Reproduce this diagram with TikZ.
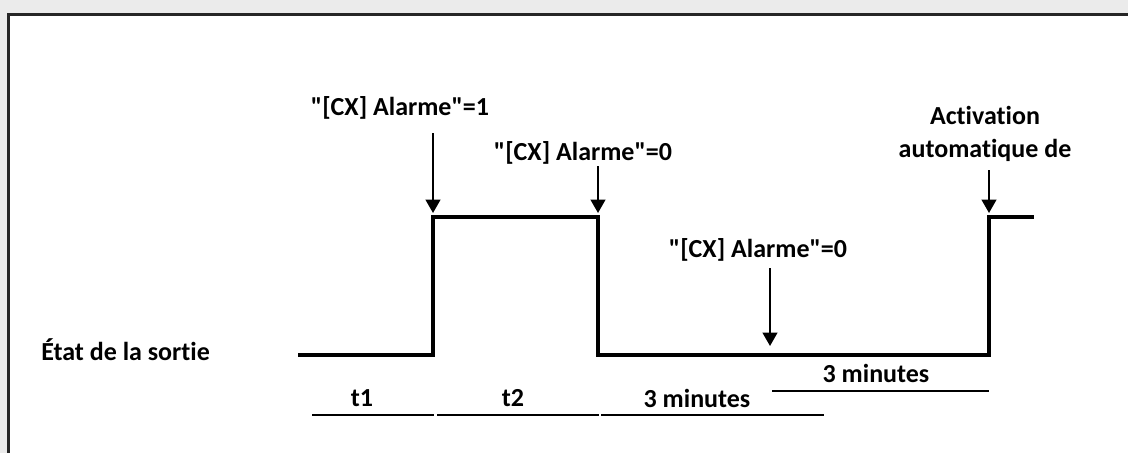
\documentclass[tikz,border=0pt]{standalone}
\usepackage{fontspec}
\newfontfamily\calfont{Carlito}[Ligatures={NoCommon}]
\usetikzlibrary{arrows.meta}
\definecolor{bggray}{HTML}{EBEBEB}
\tikzset{
  lbl/.style={font=\calfont\bfseries\fontsize{19.5}{24.75}\selectfont, inner sep=0pt, text=black},
  sig/.style={line width=3pt, line join=miter},
  evarrow/.style={line width=1.5pt, -{Triangle[width=11pt,length=10pt]}},
  span/.style={line width=1.4pt}
}
\begin{document}
\begin{tikzpicture}[x=0.75pt,y=-0.75pt]
\useasboundingbox (0,0) rectangle (1128,453);
\fill[bggray] (0,0) rectangle (1128,453);
\filldraw[fill=white, draw=black!85, line width=1.6pt] (8.5,14.5) rectangle (1140,470);

% labels
\node[lbl] (l1) at (400,108) {"[CX] Alarme"=1};
\node[lbl] (l2) at (583,153) {"[CX] Alarme"=0};
\node[lbl] (l3) at (758,250) {"[CX] Alarme"=0};
\node[lbl, align=center] (l4) at (985,133.5) {Activation\\automatique de};
\node[lbl, anchor=west] (etat) at (41,350) {État de la sortie};
\node[lbl] (t1) at (362,398) {t1};
\node[lbl] (t2) at (513,398) {t2};
\node[lbl] (m1) at (697,398) {3 minutes};
\node[lbl] (m2) at (876,373) {3 minutes};

% signal
\coordinate (s0) at (298,355);
\coordinate (s1) at (433,355);
\coordinate (s2) at (433,217);
\coordinate (s3) at (598,217);
\coordinate (s4) at (598,355);
\coordinate (s5) at (989,355);
\coordinate (s6) at (989,217);
\coordinate (s7) at (1034,217);
\draw[sig] (s0) -- (s1) -- (s2) -- (s3) -- (s4) -- (s5) -- (s6) -- (s7);

% event arrows
\coordinate (a1s) at (433,133); \coordinate (a1e) at (433,213);
\coordinate (a2s) at (598,166); \coordinate (a2e) at (598,213);
\coordinate (a3s) at (770,268); \coordinate (a3e) at (770,346);
\coordinate (a4s) at (989,170); \coordinate (a4e) at (989,213);
\draw[evarrow] (a1s) -- (a1e);
\draw[evarrow] (a2s) -- (a2e);
\draw[evarrow] (a3s) -- (a3e);
\draw[evarrow] (a4s) -- (a4e);

% spans
\coordinate (p1a) at (312,415); \coordinate (p1b) at (434,415);
\coordinate (p2a) at (437,415); \coordinate (p2b) at (599,415);
\coordinate (p3a) at (601,415); \coordinate (p3b) at (824,415);
\coordinate (p4a) at (772,391); \coordinate (p4b) at (989,391);
\draw[span] (p1a) -- (p1b);
\draw[span] (p2a) -- (p2b);
\draw[span] (p3a) -- (p3b);
\draw[span] (p4a) -- (p4b);
\end{tikzpicture}
\end{document}
